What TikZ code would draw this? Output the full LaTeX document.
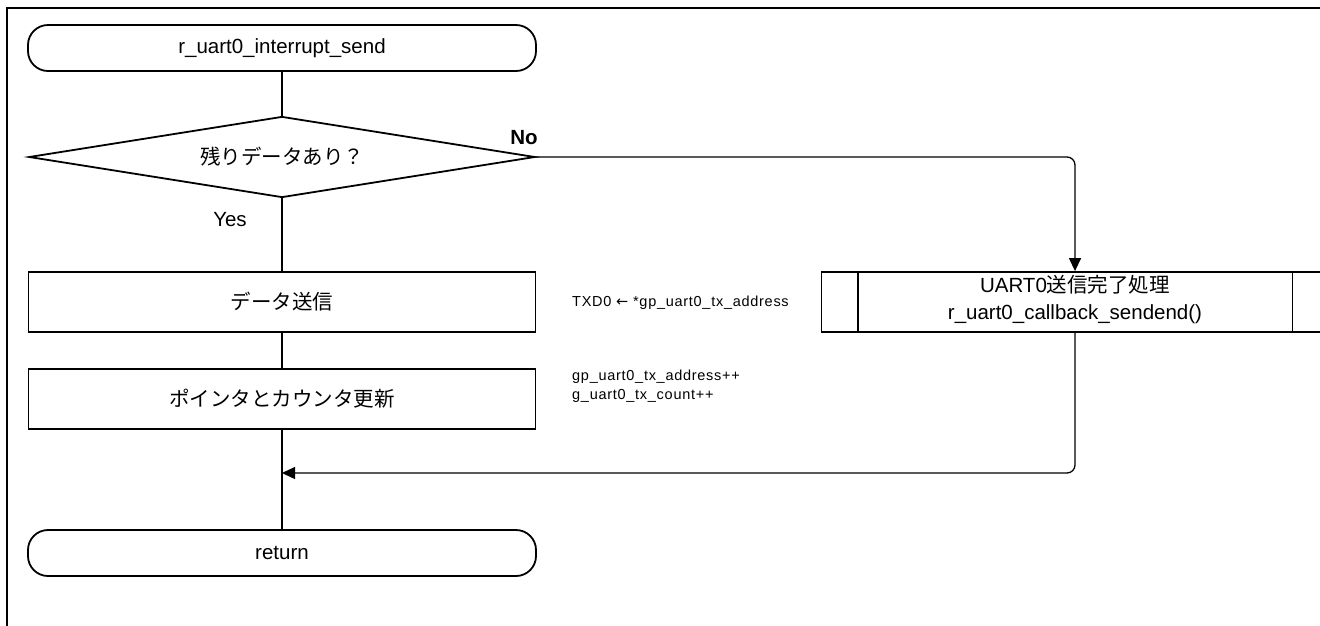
\documentclass[tikz,border=0pt]{standalone}
\usepackage{fontspec}
\setmainfont{Liberation Sans}
\newfontfamily\cjk{Noto Sans CJK JP}
\newfontfamily\djv{DejaVu Sans}
\newfontfamily\notefont[LetterSpace=5]{Liberation Sans}
\usetikzlibrary{shapes.geometric,arrows.meta}
\begin{document}
\begin{tikzpicture}[x=1pt,y=-1pt,
  every node/.style={font=\fontsize{20.5}{27}\selectfont},
  term/.style={draw,line width=1.8pt,rounded corners=20pt,minimum width=508pt,minimum height=46pt,inner sep=0pt},
  proc/.style={draw,line width=1.8pt,minimum width=507pt,minimum height=60pt,inner sep=0pt},
  dec/.style={draw,line width=1.8pt,diamond,minimum width=506pt,minimum height=81pt,inner sep=0pt,aspect=6.25},
  note/.style={font=\notefont\fontsize{14.5}{19}\selectfont,anchor=west,inner sep=0pt},
  lbl/.style={inner sep=0pt},
  conn/.style={line width=1.3pt},
  arr/.style={conn,-{Triangle[length=13pt,width=12pt]}},
]
\path[use as bounding box] (0,0) rectangle (1320,625);
\clip (0,0) rectangle (1320,625);
\draw[line width=2pt] (7,8) rectangle (1340,650);

\node[term] (start) at (282,48) {r\_uart0\_interrupt\_send};
\node[dec] (dec) at (282,157) {\cjk 残りデータあり？};
\node[proc] (send) at (282,302) {\cjk データ送信};
\node[proc] (upd) at (282,399) {\cjk ポインタとカウンタ更新};
\node[term] (ret) at (282,553) {return};
\node[proc] (cb) at (1075,302) {};
\node[align=center,inner sep=0pt] (cbt) at (1075,300) {UART0{\cjk 送信完了処理}\\r\_uart0\_callback\_sendend()};
\draw[line width=1.8pt] ([xshift=37pt]cb.north west) -- ([xshift=37pt]cb.south west);
\draw[line width=1.8pt] ([xshift=-37pt]cb.north east) -- ([xshift=-37pt]cb.south east);

\node[lbl,font=\fontsize{20.5}{27}\selectfont\bfseries] (no) at (524,138) {No};
\node[lbl] (yes) at (230,220) {Yes};
\node[note] (n1) at (572,303) {TXD0 {\djv ←} *gp\_uart0\_tx\_address};
\node[note] (n2) at (572,377) {gp\_uart0\_tx\_address++};
\node[note] (n3) at (572,396) {g\_uart0\_tx\_count++};

\draw[conn] (start) -- (dec);
\draw[conn] (dec) -- (send);
\draw[conn] (send) -- (upd);
\draw[conn] (upd) -- (ret);
\draw[arr,rounded corners=8pt] (dec.east) -| (cb.north);
\coordinate (m) at (282,473);
\draw[arr,rounded corners=8pt] (cb.south) |- (m);
\end{tikzpicture}
\end{document}
